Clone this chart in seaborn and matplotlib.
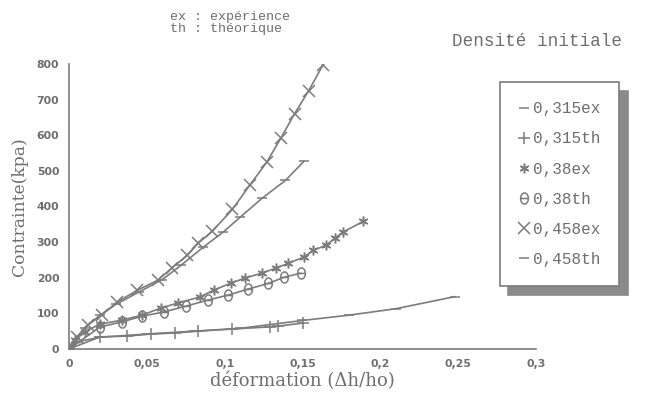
import matplotlib
matplotlib.use("Agg")
import matplotlib.pyplot as plt
from matplotlib.path import Path
import numpy as np
import seaborn as sns
import pandas as pd

sns.set_style("white")
plt.rcParams['font.family'] = ['DejaVu Sans']

# ---- data ----
x_315ex = [0, 0.005, 0.02, 0.05, 0.08, 0.11, 0.15, 0.18, 0.21, 0.248]
y_315ex = [0, 20, 33, 42, 50, 58, 80, 95, 113, 147]

x_315th = [0, 0.020, 0.037, 0.053, 0.068, 0.083, 0.105, 0.129, 0.134, 0.1506]
y_315th = [0, 34, 36, 42, 45, 50, 56, 62, 64, 73]

x_38ex = [0, 0.004, 0.010, 0.020, 0.034, 0.047, 0.059, 0.070, 0.084, 0.093, 0.104,
          0.113, 0.124, 0.133, 0.141, 0.151, 0.157, 0.165, 0.171, 0.176, 0.189]
y_38ex = [0, 25, 48, 70, 81, 95, 115, 129, 146, 165, 185,
          199, 213, 227, 241, 258, 277, 291, 311, 328, 358]

x_38th = [0, 0.020, 0.034, 0.047, 0.061, 0.075, 0.089, 0.102, 0.115, 0.128, 0.138, 0.149]
y_38th = [0, 62, 76, 92, 104, 120, 137, 151, 168, 184, 201, 213]

x_458ex = [0, 0.005, 0.012, 0.021, 0.031, 0.044, 0.057, 0.066, 0.076, 0.083, 0.092,
           0.105, 0.116, 0.127, 0.136, 0.145, 0.154, 0.163]
y_458ex = [0, 34, 67, 95, 132, 165, 193, 227, 263, 297, 330,
           392, 459, 524, 591, 661, 725, 796]

x_458th = [0, 0.01, 0.02, 0.03, 0.045, 0.06, 0.072, 0.086, 0.099, 0.11, 0.124, 0.139, 0.151]
y_458th = [0, 60, 95, 125, 160, 195, 235, 285, 328, 370, 423, 473, 527]

labels = ["0,315ex", "0,315th", "0,38ex", "0,38th", "0,458ex", "0,458th"]
x_ticks = [0, 0.05, 0.1, 0.15, 0.2, 0.25, 0.3]
x_tick_labels = ["0", "0,05", "0,1", "0,15", "0,2", "0,25", "0,3"]
y_ticks = [0, 100, 200, 300, 400, 500, 600, 700, 800]

# theta-like marker: vertical ellipse with a horizontal bar
_t = np.linspace(0, 2 * np.pi, 33)
_verts = list(zip(0.7 * np.cos(_t), np.sin(_t))) + [(-0.7, 0), (0.7, 0)]
_codes = [Path.MOVETO] + [Path.LINETO] * 32 + [Path.MOVETO, Path.LINETO]
theta_marker = Path(_verts, _codes)

series = [(x_315ex, y_315ex), (x_315th, y_315th), (x_38ex, y_38ex),
          (x_38th, y_38th), (x_458ex, y_458ex), (x_458th, y_458th)]
markers = ["_", "+", (6, 2, 0), theta_marker, "x", "_"]
msizes = [7, 8, 7, 8, 9, 7]

ink = "#7c7c7c"
txt = "#6e6e6e"

fig = plt.figure(figsize=(6.54, 3.95), dpi=100)
ax = fig.add_axes([0.1055, 0.1165, 0.714, 0.7215])

for (xs, ys), lab, mk, ms in zip(series, labels, markers, msizes):
    df = pd.DataFrame({"x": xs, "y": ys})
    sns.lineplot(data=df, x="x", y="y", ax=ax, estimator=None, sort=False,
                 color=ink, lw=1.2, marker=mk, markersize=ms,
                 markeredgecolor=ink, markerfacecolor="none", markeredgewidth=1.1,
                 label=lab)

ax.set_xlim(0, 0.3)
ax.set_ylim(0, 800)
ax.set_xticks(x_ticks)
ax.set_xticklabels(x_tick_labels)
ax.set_yticks(y_ticks)
for s in ["top", "right"]:
    ax.spines[s].set_visible(False)
for s in ["left", "bottom"]:
    ax.spines[s].set_color(ink)
    ax.spines[s].set_linewidth(1.2)
ax.tick_params(direction="inout", length=7, width=1, color=ink,
               labelsize=7.8, labelcolor=txt)
for t in ax.get_xticklabels() + ax.get_yticklabels():
    t.set_fontweight("bold")

ax.set_xlabel("déformation (Δh/ho)", fontsize=13, color=txt,
              family="DejaVu Serif", labelpad=2)
ax.set_ylabel("Contrainte(kpa)", fontsize=12.3, color=txt,
              family="DejaVu Serif", labelpad=6)

leg = ax.legend(loc="upper left", bbox_to_anchor=(500 / 654, 1 - 82 / 395),
                bbox_transform=fig.transFigure, frameon=True, fancybox=False,
                shadow={"ox": 6, "oy": -6.5, "color": "#8a8a8a", "alpha": 1},
                edgecolor=ink, facecolor="white", labelspacing=0.95,
                handlelength=0.55, handletextpad=0.3, borderpad=1.2,
                borderaxespad=0, prop={"family": "Liberation Mono", "size": 11.5})
leg.get_frame().set_linewidth(1.2)
for t in leg.get_texts():
    t.set_color(txt)
for h in leg.legend_handles:
    h.set_linestyle("none")

fig.text(537 / 654, 1 - 42 / 395, "Densité initiale", family="Liberation Mono",
         fontsize=12.7, color=txt, ha="center", va="center")
fig.text(170 / 654, 1 - 23 / 395, "ex : expérience\nth : théorique",
         family="Liberation Mono", fontsize=9.6, color=txt, ha="left",
         va="center", linespacing=0.95)

fig.savefig("out.png", dpi=100)
